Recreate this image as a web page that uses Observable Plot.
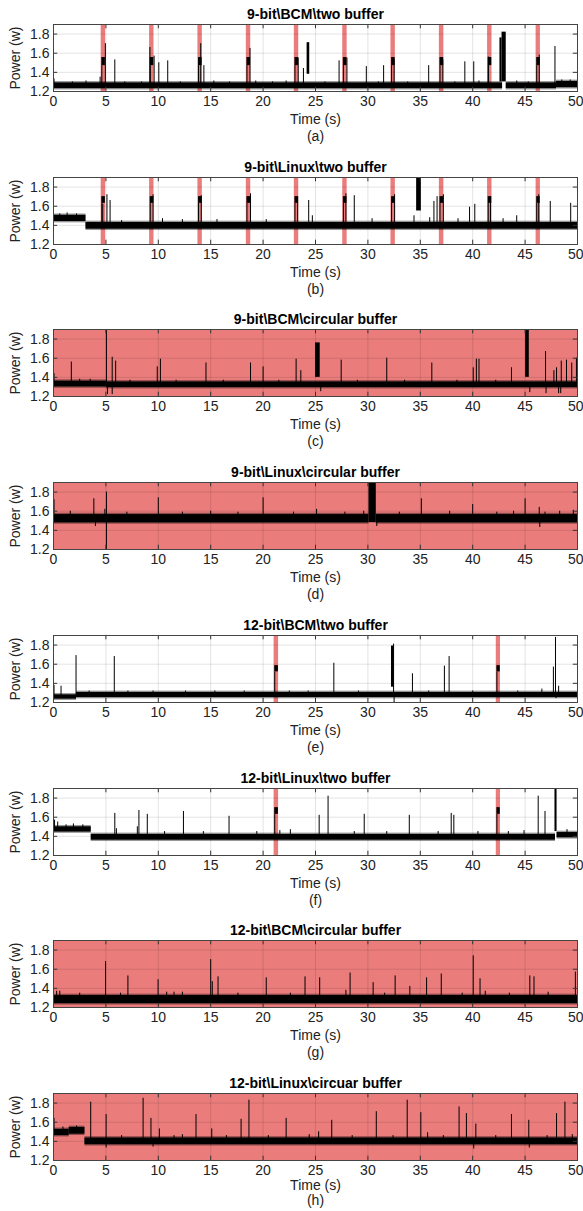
<!DOCTYPE html>
<html><head><meta charset="utf-8">
<script src="https://cdn.jsdelivr.net/npm/d3@7"></script>
<script src="https://cdn.jsdelivr.net/npm/@observablehq/plot@0.6"></script>
<style>
html,body{margin:0;padding:0;background:#fff}
#chart{position:relative;width:583px;height:1211px;overflow:hidden}
#chart svg{position:absolute;left:0}
</style></head><body><div id="chart"></div>
<script>
// ---- data ----
const xTicks = [0,5,10,15,20,25,30,35,40,45,50];
const yTicks = [1.2,1.4,1.6,1.8];
const xDomain = [0,50];
const yDomain = [1.2,1.9];
const titles = ["9-bit\\BCM\\two buffer","9-bit\\Linux\\two buffer","9-bit\\BCM\\circular buffer","9-bit\\Linux\\circular buffer",
  "12-bit\\BCM\\two buffer","12-bit\\Linux\\two buffer","12-bit\\BCM\\circular buffer","12-bit\\Linux\\circuar buffer"];
const captions = ["(a)","(b)","(c)","(d)","(e)","(f)","(g)","(h)"];
const shaded = [false,false,true,true,false,false,true,true];

// highlighted (red) transfer windows, seconds
const bands9 = [[4.55,4.97],[9.17,9.59],[13.78,14.2],[18.4,18.82],[22.98,23.4],[27.6,28.02],[32.2,32.62],[36.82,37.25],[41.42,41.84],[46.05,46.46]];
const bands12 = [[21.05,21.48],[42.25,42.65]];

// power level reached inside the red windows [low, high]
const levelA = [1.47,1.555];
const levelB = [1.63,1.70];
const levelE = [1.52,1.585];
const levelF = [1.63,1.70];

// baseline noise band segments [t0, t1, low, high]
const baseA = [[0,42.85,1.23,1.29],[43.2,48,1.23,1.29],[48,50,1.24,1.305]];
const baseB = [[0,3.1,1.44,1.505],[3.1,50,1.36,1.43]];
const baseC = [[0,5.05,1.30,1.36],[5.05,50,1.293,1.352]];
const baseD = [[0,30.1,1.478,1.565],[30.8,50,1.478,1.565]];
const baseE = [[0,2.2,1.235,1.28],[2.2,50,1.252,1.305]];
const baseF = [[0,3.6,1.445,1.50],[3.6,47.9,1.36,1.42],[48.05,50,1.385,1.44]];
const baseG = [[0,50,1.24,1.325]];
const baseH = [[0,1.5,1.46,1.525],[1.5,3.0,1.475,1.545],[3.0,50,1.365,1.435]];

// bursts [t0, t1, low, high]
const burstsA = [[24.2,24.45,1.38,1.71],[42.6,42.8,1.30,1.76],[42.8,43.2,1.30,1.82]];
const burstsB = [[34.65,35.1,1.55,1.9]];
const burstsC = [[25.0,25.45,1.40,1.76],[45.05,45.4,1.40,1.90]];
const burstsD = [[30.1,30.8,1.48,1.9]];
const burstsE = [[32.25,32.5,1.36,1.79]];
const burstsF = [[47.85,48.05,1.45,1.9]];

// spikes [t, peak]
const spikesA = [[0.05,1.33],[1.8,1.30],[3.1,1.31],[4.45,1.35],[4.95,1.70],[5.85,1.53],[6.8,1.30],[8.4,1.30],[9.2,1.66],[9.6,1.57],[10.05,1.50],[10.9,1.52],[12.1,1.30],[14.05,1.70],[14.35,1.47],[15.3,1.31],[16.8,1.30],[18.75,1.65],[19.3,1.31],[20.9,1.30],[22.2,1.31],[23.35,1.55],[23.85,1.44],[25.9,1.30],[27.25,1.52],[28.0,1.55],[29.85,1.46],[31.0,1.30],[31.5,1.47],[32.5,1.53],[33.8,1.30],[35.8,1.47],[37.15,1.53],[38.3,1.30],[39.25,1.51],[40.1,1.51],[40.6,1.31],[41.5,1.56],[44.2,1.31],[45.3,1.30],[46.35,1.58],[47.85,1.67],[48.5,1.32],[49.3,1.32]];
const spikesB = [[0.6,1.52],[1.3,1.53],[2.2,1.52],[4.7,1.62],[5.1,1.72],[5.4,1.66],[6.5,1.45],[9.5,1.72],[10.4,1.47],[12.3,1.46],[14.1,1.71],[15.6,1.46],[18.8,1.73],[20.3,1.46],[23.3,1.70],[24.35,1.66],[24.7,1.50],[27.9,1.73],[28.7,1.71],[30.4,1.47],[32.55,1.72],[34.4,1.50],[35.9,1.48],[36.3,1.65],[36.6,1.70],[37.2,1.72],[38.6,1.47],[39.7,1.59],[40.2,1.62],[41.7,1.70],[42.9,1.47],[44.2,1.50],[46.3,1.72],[47.4,1.65],[49.35,1.63]];
const spikesC = [[0.05,1.44],[1.7,1.56],[2.5,1.38],[3.5,1.38],[5.05,1.89],[5.6,1.61],[5.93,1.57],[7.3,1.37],[9.9,1.51],[10.2,1.59],[11.7,1.37],[14.55,1.55],[16.2,1.37],[18.8,1.55],[20.0,1.51],[21.5,1.37],[23.15,1.59],[23.6,1.47],[27.45,1.58],[29.0,1.37],[31.8,1.60],[33.5,1.37],[36.1,1.55],[38.5,1.37],[40.05,1.50],[40.35,1.59],[40.6,1.59],[42.2,1.37],[43.7,1.50],[46.95,1.67],[47.75,1.47],[48.0,1.50],[48.45,1.57],[48.95,1.58],[49.45,1.55],[49.9,1.60]];
const spikesD = [[0.05,1.72],[1.6,1.60],[3.85,1.73],[4.9,1.62],[5.05,1.80],[7.0,1.59],[10.0,1.74],[12.3,1.59],[15.0,1.60],[17.6,1.59],[20.0,1.74],[22.9,1.59],[25.1,1.62],[27.8,1.59],[29.6,1.60],[33.0,1.59],[35.1,1.73],[37.8,1.60],[40.0,1.67],[42.3,1.59],[43.9,1.60],[45.0,1.73],[46.35,1.64],[46.9,1.59],[48.3,1.60],[49.6,1.61]];
const spikesE = [[0.05,1.38],[0.72,1.37],[2.15,1.69],[3.4,1.32],[5.8,1.68],[7.1,1.32],[9.5,1.32],[12.6,1.32],[15.4,1.32],[18.2,1.32],[22.5,1.32],[24.3,1.32],[26.75,1.61],[29.1,1.32],[32.45,1.81],[34.25,1.50],[35.8,1.32],[37.3,1.58],[37.75,1.68],[40.0,1.32],[44.3,1.32],[46.6,1.34],[47.7,1.57],[47.9,1.88],[48.2,1.37]];
const spikesF = [[0.1,1.57],[0.4,1.55],[1.2,1.52],[1.9,1.53],[2.8,1.52],[5.85,1.64],[6.0,1.48],[8.0,1.50],[8.15,1.67],[8.95,1.63],[10.6,1.45],[12.4,1.66],[14.3,1.45],[16.75,1.61],[19.4,1.45],[21.6,1.46],[22.6,1.47],[25.35,1.62],[26.2,1.82],[28.7,1.45],[29.65,1.63],[31.8,1.45],[33.95,1.62],[36.7,1.45],[37.95,1.64],[38.2,1.62],[40.5,1.45],[43.4,1.45],[44.9,1.46],[46.25,1.82],[46.9,1.66],[49.0,1.47]];
const spikesG = [[0.3,1.37],[0.6,1.37],[2.5,1.35],[4.97,1.68],[6.4,1.35],[7.1,1.53],[9.98,1.49],[10.8,1.36],[11.5,1.36],[12.3,1.36],[15.0,1.70],[15.15,1.47],[15.7,1.52],[17.6,1.35],[20.3,1.51],[22.6,1.35],[24.0,1.52],[25.4,1.51],[27.9,1.38],[28.3,1.56],[30.5,1.46],[31.6,1.35],[32.6,1.53],[34.0,1.42],[35.6,1.51],[37.0,1.55],[39.0,1.35],[40.05,1.74],[40.7,1.50],[41.2,1.37],[43.5,1.35],[45.45,1.53],[45.85,1.52],[47.2,1.36],[49.8,1.57]];
const spikesH = [[0.05,1.64],[0.9,1.55],[2.2,1.56],[3.55,1.81],[5.02,1.68],[6.5,1.46],[8.55,1.85],[9.3,1.64],[10.1,1.53],[11.5,1.46],[12.3,1.47],[13.6,1.68],[15.1,1.53],[16.5,1.46],[17.9,1.63],[18.65,1.83],[20.5,1.46],[22.2,1.64],[24.4,1.47],[25.3,1.50],[26.55,1.62],[28.5,1.46],[30.8,1.71],[32.4,1.46],[33.75,1.83],[35.05,1.70],[35.7,1.49],[37.2,1.46],[38.7,1.76],[39.4,1.69],[40.3,1.58],[42.2,1.46],[43.7,1.68],[45.35,1.62],[47.1,1.46],[48.0,1.69],[48.8,1.81],[49.5,1.47]];

// downward dips [t, minimum]
const dipsC = [[5.15,1.22],[5.6,1.22],[25.5,1.25],[45.45,1.24],[47.0,1.23],[48.2,1.23],[48.4,1.23]];
const dipsD = [[5.05,1.2],[4.0,1.44],[46.4,1.43],[30.85,1.44]];
const dipsE = [[32.5,1.2],[47.95,1.24]];
const dipsH = [[5.02,1.33],[40.1,1.32],[45.4,1.33],[9.5,1.34]];

// ---- assemble ----
const RED = "#ea7c7c";
const panelData = [
  {bands: bands9, level: levelA, base: baseA, bursts: burstsA, spikes: spikesA, dips: []},
  {bands: bands9, level: levelB, base: baseB, bursts: burstsB, spikes: spikesB, dips: []},
  {bands: [], level: null, base: baseC, bursts: burstsC, spikes: spikesC, dips: dipsC},
  {bands: [], level: null, base: baseD, bursts: burstsD, spikes: spikesD, dips: dipsD},
  {bands: bands12, level: levelE, base: baseE, bursts: burstsE, spikes: spikesE, dips: dipsE},
  {bands: bands12, level: levelF, base: baseF, bursts: burstsF, spikes: spikesF, dips: []},
  {bands: [], level: null, base: baseG, bursts: [], spikes: spikesG, dips: []},
  {bands: [], level: null, base: baseH, bursts: [], spikes: spikesH, dips: dipsH}
];

function baseMid(base, t) {
  let seg = base.find(s => t >= s[0] && t <= s[1]);
  if (!seg) seg = base.reduce((a, s) => Math.abs(s[0]-t) < Math.abs(a[0]-t) ? s : a);
  return (seg[2] + seg[3]) / 2;
}

const STEP = 152.7;
const chart = document.getElementById("chart");
const font = "'Liberation Sans', Arial, Helvetica, sans-serif";
const tickLenY = 0.045, tickLenX = 0.4, fuzz = 0.014;
const lastTick = xTicks[xTicks.length - 1];

panelData.forEach((p, i) => {
  const isLast = i === panelData.length - 1;
  const windowBlocks = p.level ? p.bands.map(b => [b[0] + 0.06, b[1] - 0.02, p.level[0], p.level[1]]) : [];
  const risers = p.level ? p.bands.map(b => [b[0] + 0.06, baseMid(p.base, b[0]), p.level[0]]) : [];
  const marks = [];
  if (shaded[i]) marks.push(Plot.frame({fill: RED, stroke: null}));
  marks.push(Plot.rect(p.bands, {x1: d => d[0], x2: d => d[1], fill: RED}));
  marks.push(Plot.gridX(xTicks, {stroke: "#000", strokeOpacity: 0.11}));
  marks.push(Plot.gridY(yTicks, {stroke: "#000", strokeOpacity: 0.11}));
  // noisy fringe of the baseline band
  marks.push(Plot.rect(p.base, {x1: d => d[0], x2: d => d[1], y1: d => d[2] - fuzz, y2: d => d[3] + fuzz, fill: "#000", fillOpacity: 0.4}));
  marks.push(Plot.rect(p.base, {x1: d => d[0], x2: d => d[1], y1: d => d[2], y2: d => d[3], fill: "#000"}));
  marks.push(Plot.rect(p.bursts, {x1: d => d[0], x2: d => d[1], y1: d => d[2], y2: d => d[3], fill: "#000"}));
  marks.push(Plot.rect(windowBlocks, {x1: d => d[0], x2: d => d[1], y1: d => d[2], y2: d => d[3], fill: "#000"}));
  marks.push(Plot.ruleX(risers, {x: d => d[0], y1: d => d[1], y2: d => d[2], stroke: "#000", strokeWidth: 1}));
  marks.push(Plot.ruleX(p.spikes, {x: d => d[0], y1: d => baseMid(p.base, d[0]), y2: d => d[1], stroke: "#000", strokeWidth: 1}));
  marks.push(Plot.ruleX(p.dips, {x: d => d[0], y1: d => baseMid(p.base, d[0]), y2: d => d[1], stroke: "#000", strokeWidth: 1}));
  // inward ticks
  marks.push(Plot.ruleX(xTicks, {x: d => d, y1: yDomain[1], y2: yDomain[1] - tickLenY, stroke: "#333"}));
  marks.push(Plot.ruleX(xTicks, {x: d => d, y1: yDomain[0], y2: yDomain[0] + tickLenY, stroke: "#333"}));
  marks.push(Plot.ruleY(yTicks, {y: d => d, x1: xDomain[0], x2: xDomain[0] + tickLenX, stroke: "#333"}));
  marks.push(Plot.ruleY(yTicks, {y: d => d, x1: xDomain[1], x2: xDomain[1] - tickLenX, stroke: "#333"}));
  marks.push(Plot.frame({stroke: "#444"}));
  marks.push(Plot.axisX(xTicks.slice(0, -1), {tickSize: 0, tickPadding: 5, label: null, fill: "#222"}));
  marks.push(Plot.axisX([lastTick], {tickSize: 0, tickPadding: 5, label: null, fill: "#222", textAnchor: "end", dx: 6}));
  marks.push(Plot.axisY(yTicks, {tickSize: 0, tickPadding: 4, label: null, tickFormat: d3.format(".1f"), fill: "#222"}));
  marks.push(Plot.text([titles[i]], {frameAnchor: "top", dy: -10, lineAnchor: "middle", fontWeight: "bold", fontSize: 14, fill: "#000"}));
  marks.push(Plot.text(["Time (s)"], {frameAnchor: "bottom", dy: isLast ? 25 : 28, lineAnchor: "middle", fontSize: 14, fill: "#222"}));
  marks.push(Plot.text([captions[i]], {frameAnchor: "bottom", dy: isLast ? 40 : 45, lineAnchor: "middle", fontSize: 14, fill: "#222"}));
  marks.push(Plot.text(["Power (w)"], {frameAnchor: "left", dx: -38, rotate: -90, textAnchor: "middle", lineAnchor: "middle", fontSize: 14, fill: "#222"}));

  const svg = Plot.plot({
    width: 583, height: 153,
    marginTop: 24, marginBottom: 62, marginLeft: 53, marginRight: 6,
    x: {domain: xDomain}, y: {domain: yDomain},
    style: {fontFamily: font, fontSize: "14px", background: "transparent", overflow: "visible"},
    marks
  });
  svg.style.top = Math.round(i * STEP) + "px";
  chart.append(svg);
});
</script></body></html>
